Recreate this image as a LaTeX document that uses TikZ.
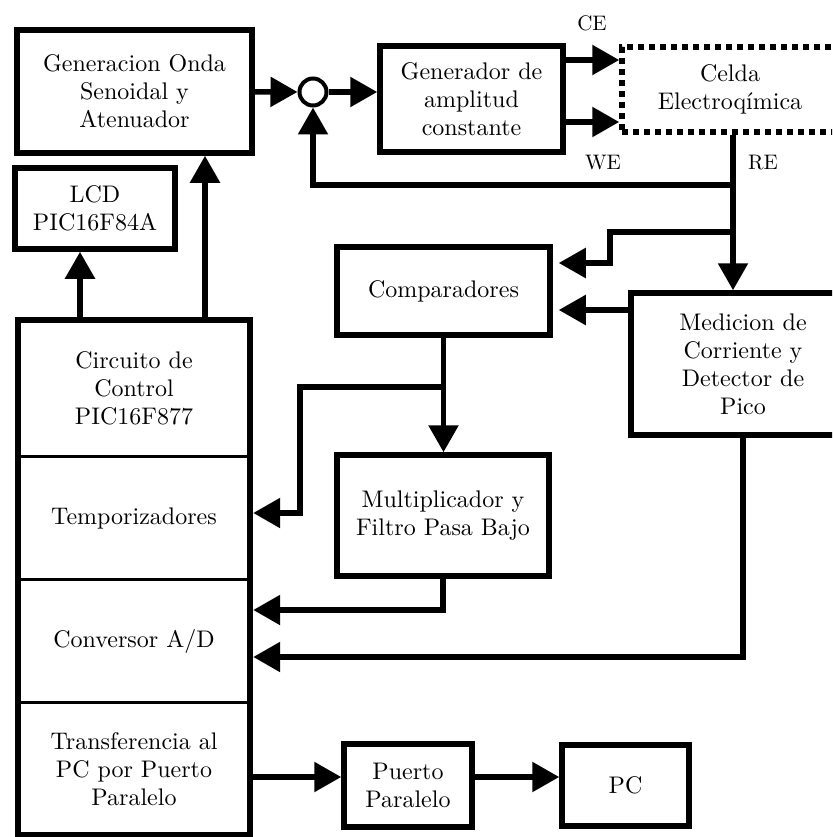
\documentclass[tikz,border=0pt]{standalone}
\usepackage{fontspec}
\setmainfont{lmroman10-regular}[Extension=.otf]
\usetikzlibrary{arrows.meta}
\begin{document}
\begin{tikzpicture}[x=1pt, y=-1pt,
    every node/.style={font=\fontsize{24}{28}\selectfont, align=center, inner sep=0pt},
    blk/.style={draw, line width=5.5pt},
    sec/.style={minimum width=232pt},
    lbl/.style={font=\fontsize{21}{24}\selectfont},
    wire/.style={line width=5.5pt},
    arr/.style={wire, -{Triangle[length=27pt,width=29pt]}}]
    \useasboundingbox (0,0) rectangle (832,837);
    \clip (0,0) rectangle (832,837);
    % Nodes with manual coordinates
    \node[blk, minimum width=235pt, minimum height=123pt] (gen) at (134.5,91.5) {Generacion Onda\\Senoidal y\\Atenuador};
    \node[draw, circle, line width=4pt, minimum size=27pt] (sum) at (313,92) {};
    \node[blk, minimum width=183pt, minimum height=106pt] (amp) at (471.5,99) {Generador de\\amplitud\\constante};
    \node[draw, line width=5.5pt, dash pattern=on 6pt off 5pt, minimum width=216pt, minimum height=85pt] (celda) at (730,89.5) {Celda\\Electroqímica};
    \node[blk, minimum width=160pt, minimum height=81pt] (lcd) at (95,208.5) {LCD\\PIC16F84A};
    \node[blk, minimum width=213pt, minimum height=88pt] (comp) at (443.5,291) {Comparadores};
    \node[blk, minimum width=224pt, minimum height=142pt] (med) at (743,364) {Medicion de\\Corriente y\\Detector de\\Pico};
    \node[blk, minimum width=212pt, minimum height=121pt] (mult) at (443,515.5) {Multiplicador y\\Filtro Pasa Bajo};
    \node[sec, minimum height=137pt] (ctrl) at (134,388.5) {Circuito de\\Control\\PIC16F877};
    \node[sec, minimum height=123pt] (temp) at (134,518.5) {Temporizadores};
    \node[sec, minimum height=123pt] (conv) at (134,641.5) {Conversor A/D};
    \node[sec, minimum height=132pt] (trans) at (134,769) {Transferencia al\\PC por Puerto\\Paralelo};
    \node[blk, minimum width=128pt, minimum height=83pt] (pto) at (408,785.5) {Puerto\\Paralelo};
    \node[blk, minimum width=127pt, minimum height=81pt] (pc) at (625.5,785.5) {PC};
    \node[lbl] (ce) at (592,23) {CE};
    \node[lbl] (we) at (603,163) {WE};
    \node[lbl] (re) at (763,163) {RE};
    \coordinate (j1) at (733,185);
    \coordinate (j2) at (733,232);
    \coordinate (j3) at (443.5,387);

    % Control block frame
    \draw[line width=5.5pt] (ctrl.north west) rectangle (trans.south east);
    \draw[line width=3pt] (temp.north west) -- (temp.north east);
    \draw[line width=3pt] (conv.north west) -- (conv.north east);
    \draw[line width=3pt] (trans.north west) -- (trans.north east);

    % Edges
    \draw[arr] (gen) -- (sum);
    \draw[arr] (sum) -- (sum -| amp.west);
    \draw[arr] (amp.east |- 0,60) -- (celda.west |- 0,60);
    \draw[arr] (amp.east |- 0,122) -- (celda.west |- 0,122);
    \draw[arr] (celda.south -| j1) -- (j1 |- med.north);
    \draw[arr] (j1) -| (sum.south);
    \draw[arr, shorten >=6pt] (j2) -- (610,232) |- (comp.east |- 0,263);
    \draw[arr, shorten >=6pt] (med.west |- 0,310) -- (comp.east |- 0,310);
    \draw[arr] (comp.south) -- (comp.south |- mult.north);
    \draw[arr, shorten >=3pt] (j3) -- (300,387) |- (temp.east |- 0,513);
    \draw[arr, shorten >=3pt] (mult.south) |- (conv.east |- 0,610);
    \draw[arr, shorten >=3pt] (med.south) |- (conv.east |- 0,657);
    \draw[arr] (ctrl.north -| 80,0) -- (lcd.south -| 80,0);
    \draw[arr] (ctrl.north -| 205,0) -- (gen.south -| 205,0);
    \draw[arr] (trans.east |- 0,777) -- (pto.west |- 0,777);
    \draw[arr] (pto.east |- 0,777) -- (pc.west |- 0,777);
\end{tikzpicture}
\end{document}
